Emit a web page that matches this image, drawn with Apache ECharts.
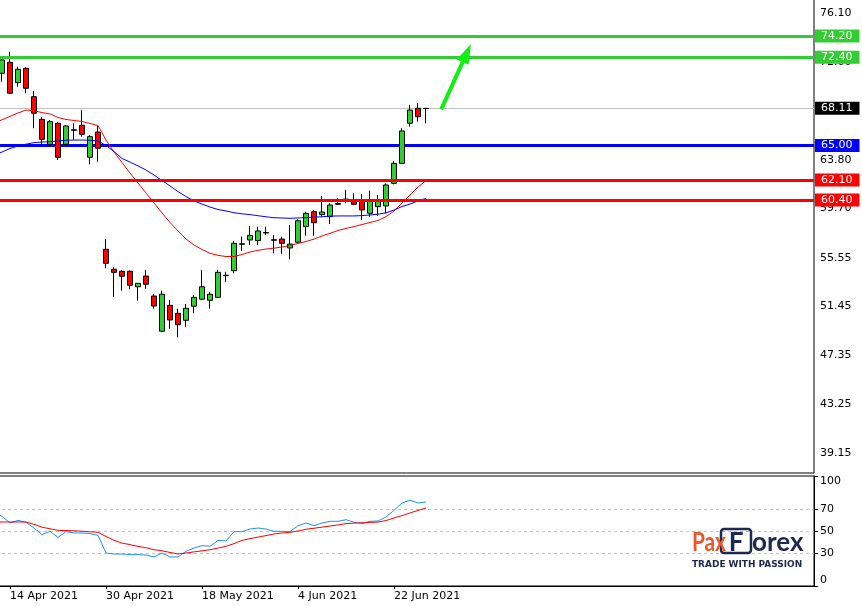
<!DOCTYPE html>
<html>
<head>
<meta charset="utf-8">
<script src="https://cdn.jsdelivr.net/npm/echarts@6.0.0/dist/echarts.min.js"></script>
<style>html,body{margin:0;padding:0;background:#fff}#c{width:862px;height:606px}</style>
</head>
<body>
<div id="c"></div>
<script>
const categories = ['12 Apr 2021','13 Apr 2021','14 Apr 2021','15 Apr 2021','16 Apr 2021','19 Apr 2021','20 Apr 2021','21 Apr 2021','22 Apr 2021','23 Apr 2021','26 Apr 2021','27 Apr 2021','28 Apr 2021','29 Apr 2021','30 Apr 2021',
 '3 May 2021','4 May 2021','5 May 2021','6 May 2021','7 May 2021','10 May 2021','11 May 2021','12 May 2021','13 May 2021','14 May 2021','17 May 2021','18 May 2021',
 '19 May 2021','20 May 2021','21 May 2021','24 May 2021','25 May 2021','26 May 2021','27 May 2021','28 May 2021',
 '1 Jun 2021','2 Jun 2021','3 Jun 2021','4 Jun 2021','7 Jun 2021','8 Jun 2021','9 Jun 2021','10 Jun 2021','11 Jun 2021','14 Jun 2021','15 Jun 2021','16 Jun 2021','17 Jun 2021','18 Jun 2021','21 Jun 2021','22 Jun 2021',
 '23 Jun 2021','24 Jun 2021','25 Jun 2021','28 Jun 2021'];

const opens  = [null,71.06,71.98,70.27,71.48,69.09,67.19,65.09,66.86,65.09,66.27,66.69,64.00,66.12,56.27,54.59,54.42,54.42,53.12,54.02,52.34,49.38,51.56,50.89,50.30,51.48,52.07,51.98,52.23,54.05,54.47,56.69,57.05,56.99,57.64,57.03,57.13,56.38,56.86,58.17,59.43,59.18,59.01,60.12,60.45,60.27,60.35,59.29,59.85,59.91,61.81,63.49,66.86,68.12,68.09];
const closes = [null,72.18,69.38,71.39,69.80,67.70,65.51,66.99,64.00,66.63,66.31,65.93,65.73,64.76,55.09,54.33,54.00,53.24,53.41,53.33,51.50,52.49,50.33,49.93,51.31,52.23,53.12,52.49,54.33,54.09,56.77,56.73,57.44,57.81,57.68,57.07,56.77,56.71,58.67,59.29,58.50,59.40,59.99,60.05,60.49,60.05,59.57,60.35,60.35,61.67,63.49,66.21,67.97,67.41,68.11];
const lows   = [null,70.35,69.35,69.93,69.38,66.44,65.03,64.95,63.77,64.95,65.45,65.73,63.41,63.63,54.67,52.28,52.79,52.91,51.95,52.96,51.28,49.32,49.60,48.87,49.76,50.89,52.00,51.28,52.18,53.52,54.25,56.12,56.63,56.63,57.47,55.93,55.87,55.43,56.80,57.41,57.41,59.01,58.39,59.98,60.13,60.00,58.73,59.01,59.07,59.29,61.73,63.47,66.57,67.00,66.86];
const highs  = [null,72.30,72.87,71.61,71.55,69.57,67.38,67.13,66.97,66.71,66.86,67.97,65.87,66.63,57.13,54.76,54.53,54.49,53.43,54.53,52.51,52.79,52.01,51.28,51.67,52.40,54.53,52.68,54.53,54.38,56.97,57.33,58.23,58.17,58.17,57.47,57.33,58.31,58.79,59.43,59.57,60.75,60.13,60.55,61.25,60.97,60.91,61.19,60.83,61.81,63.69,66.44,68.39,68.54,68.15];

const maFast = [66.86,67.15,67.44,67.72,67.97,67.91,67.76,67.64,67.34,67.18,67.09,67.01,66.84,66.67,65.45,64.44,63.56,62.68,61.84,61.00,60.16,59.32,58.52,57.81,57.13,56.63,56.25,55.93,55.76,55.66,55.66,55.83,56.04,56.18,56.29,56.36,56.46,56.59,56.76,56.92,57.13,57.39,57.61,57.85,58.02,58.18,58.35,58.52,58.69,59.02,59.49,60.16,60.83,61.50,62.05];
const maSlow = [64.19,64.44,64.74,64.95,65.10,65.23,65.28,65.31,65.37,65.43,65.45,65.45,65.43,65.37,64.99,64.49,63.90,63.60,63.27,62.93,62.51,62.05,61.59,61.12,60.70,60.33,60.07,59.82,59.61,59.49,59.34,59.25,59.18,59.09,59.00,58.92,58.90,58.87,58.90,58.93,58.97,59.00,59.05,59.07,59.07,59.07,59.10,59.15,59.22,59.33,59.57,59.86,60.07,60.33,60.55];

const oscMain   = [67.0,63.3,57.3,59.7,57.9,52.7,46.7,49.7,44.2,49.4,48.2,48.2,47.6,46.1,30.0,29.1,29.1,28.5,28.5,28.2,26.4,30.0,26.4,26.4,31.5,34.5,36.7,36.1,41.5,40.9,49.4,49.4,51.8,52.7,51.8,49.7,49.7,49.4,54.8,57.3,54.8,57.3,58.8,58.8,60.3,57.9,56.7,58.8,59.1,62.7,68.8,75.5,77.9,75.5,76.4];
const oscSignal = [58.2,58.2,58.2,58.2,58.2,56.0,53.5,52.0,50.6,50.4,50.2,49.8,49.3,48.8,45.0,41.5,39.0,37.6,36.0,34.8,33.0,32.0,30.5,29.1,30.0,31.0,32.0,33.0,34.5,36.1,38.5,41.5,43.0,44.5,45.8,47.3,48.2,48.8,50.0,51.6,52.5,53.5,54.5,55.5,56.7,57.2,57.5,57.8,58.1,59.5,61.8,64.0,66.4,68.7,70.9];

const dateLabels = ['14 Apr 2021','30 Apr 2021','18 May 2021','4 Jun 2021','22 Jun 2021'];
const priceTicks = [39.15,43.25,47.35,51.45,55.55,59.70,63.80,67.90,72.00,76.10];
const oscTicks = [0,30,50,70,100];
const oscLevels = [30,50,70];
const levelValues = [74.20,72.40,65.00,62.10,60.40];
const levelColors = ['#32cd32','#32cd32','#0000ff','#ff0000','#ff0000'];
const currentPrice = closes[closes.length-1];
// arrow in bar-index units (0 = first category) and price
const arrowFrom = [55.9, 68.03];
const arrowTo = [59.1, 72.76];

const FONT = 'DejaVu Sans';
const candleData = categories.map((c,i)=> opens[i]==null ? '-' : [opens[i], closes[i], lows[i], highs[i]]);
const showDate = (idx, val) => dateLabels.indexOf(val) >= 0;

function levelItem(v, color){
  return {yAxis: v, lineStyle:{color: color, width: 3, type:'solid'},
    label:{backgroundColor: color}};
}
const levelLabel = {show:true, position:'end', distance:1, formatter: p => Number(p.value).toFixed(2),
  color:'#fff', fontFamily: FONT, fontSize: 11, lineHeight: 13, padding:[0,7,0,6]};

const backLevels = [];
const frontLevels = [];
levelValues.forEach((v,i)=>{ (levelColors[i]==='#0000ff' ? backLevels : frontLevels).push(levelItem(v, levelColors[i])); });
backLevels.unshift({yAxis: currentPrice, lineStyle:{color:'#c0c0c0', width:1, type:'solid'}, label:{backgroundColor:'#000'}});

const N_SLOTS = 103;

const chart = echarts.init(document.getElementById('c'), null, {renderer:'canvas'});
chart.setOption({
  animation:false,
  backgroundColor:'#fff',
  grid:[
    {left:-10, right:48, top:-1, height:474, outerBoundsMode:'none', containLabel:false, show:true, borderColor:'#000', borderWidth:1, backgroundColor:'transparent'},
    {left:-10, right:48, top:476, height:110, outerBoundsMode:'none', containLabel:false, show:true, borderColor:'#000', borderWidth:1, backgroundColor:'transparent'}
  ],
  xAxis:[
    {type:'category', gridIndex:0, data:categories, min:0, max:N_SLOTS-1, boundaryGap:true,
     axisLine:{show:false}, axisTick:{show:false}, axisLabel:{show:false}, splitLine:{show:false}},
    {type:'category', gridIndex:1, data:categories, min:0, max:N_SLOTS-1, boundaryGap:true,
     axisLine:{show:true, lineStyle:{color:'#000', width:1}},
     axisTick:{show:true, interval:showDate, alignWithLabel:true, length:3, lineStyle:{color:'#000'}},
     axisLabel:{show:true, interval:showDate, align:'left', margin:5, color:'#000', fontFamily:FONT, fontSize:11},
     splitLine:{show:false}},
    {type:'value', gridIndex:0, position:'top', show:false, min:-0.5, max:N_SLOTS-0.5,
     axisLine:{show:false}, axisTick:{show:false}, axisLabel:{show:false}, splitLine:{show:false}}
  ],
  yAxis:[
    {type:'value', gridIndex:0, position:'right', min:37.469, max:77.301,
     axisLine:{show:true, lineStyle:{color:'#000', width:1}},
     axisTick:{show:true, inside:false, length:4, lineStyle:{color:'#000'}, customValues: priceTicks},
     axisLabel:{show:true, customValues: priceTicks, formatter: v => Number(v).toFixed(2), color:'#000', fontFamily:FONT, fontSize:11, margin:6},
     splitLine:{show:false}},
    {type:'value', gridIndex:1, position:'right', min:0, max:100,
     axisLine:{show:true, lineStyle:{color:'#000', width:1}},
     axisTick:{show:true, length:4, lineStyle:{color:'#000'}, customValues: oscTicks},
     axisLabel:{show:true, customValues: oscTicks, color:'#000', fontFamily:FONT, fontSize:11, margin:6,
       verticalAlignMaxLabel:'top', verticalAlignMinLabel:'bottom'},
     splitLine:{show:false}}
  ],
  series:[
    {type:'candlestick', name:'price', xAxisIndex:0, yAxisIndex:0, data:candleData, barWidth:5, z:3, silent:true,
     itemStyle:{color:'#32cd32', color0:'#ff0000', borderColor:'#000', borderColor0:'#000', borderWidth:1},
     markLine:{z:1, silent:true, symbol:['none','none'], label:levelLabel, data:backLevels}},
    {type:'line', name:'maFast', xAxisIndex:0, yAxisIndex:0, data:maFast, showSymbol:false, symbol:'none', z:4, silent:true,
     lineStyle:{color:'#ff0000', width:1},
     markLine:{z:5, silent:true, symbol:['none','none'], label:levelLabel, data:frontLevels}},
    {type:'line', name:'maSlow', xAxisIndex:0, yAxisIndex:0, data:maSlow, showSymbol:false, symbol:'none', z:4, silent:true,
     lineStyle:{color:'#0000ff', width:1}},
    {type:'line', name:'arrow', xAxisIndex:2, yAxisIndex:0, data:[arrowFrom], showSymbol:false, symbol:'none', z:6, silent:true,
     lineStyle:{opacity:0},
     markLine:{z:6, silent:true, label:{show:false}, symbol:['none','triangle'], symbolSize:[13,20],
       data:[[{coord:arrowFrom}, {coord:arrowTo}]],
       lineStyle:{color:'#11ee11', width:4, type:'solid'}, itemStyle:{color:'#11ee11'}}},
    {type:'line', name:'oscMain', xAxisIndex:1, yAxisIndex:1, data:oscMain, showSymbol:false, symbol:'none', z:4, silent:true,
     lineStyle:{color:'#1e90ff', width:1}},
    {type:'line', name:'oscSignal', xAxisIndex:1, yAxisIndex:1, data:oscSignal, showSymbol:false, symbol:'none', z:4, silent:true,
     lineStyle:{color:'#ff0000', width:1},
     markLine:{z:1, silent:true, symbol:['none','none'], label:{show:false},
       lineStyle:{color:'#c0c0c0', width:1, type:[3,3]}, data: oscLevels.map(v=>({yAxis:v}))}}
  ],
  graphic:[
    {type:'rect', z:10, shape:{x:721, y:529, width:30, height:24, r:3}, style:{fill:'none', stroke:'#1d2951', lineWidth:2.5}},
    {type:'text', z:10, x:692, y:543, scaleX:0.8, style:{text:'Pax', fill:'#e8562a', font:'bold 26px Lato', verticalAlign:'middle'}},
    {type:'text', z:10, x:736, y:543, style:{text:'F', fill:'#1d2951', font:'bold 26px Lato', align:'center', verticalAlign:'middle'}},
    {type:'text', z:10, x:752, y:543, style:{text:'orex', fill:'#1d2951', font:'bold 26px Lato', verticalAlign:'middle'}},
    {type:'text', z:10, x:692, y:565, scaleX:1.12, style:{text:'TRADE WITH PASSION', fill:'#1d2951', font:'bold 8px "DejaVu Sans"', verticalAlign:'middle'}}
  ]
});
</script>
</body>
</html>
